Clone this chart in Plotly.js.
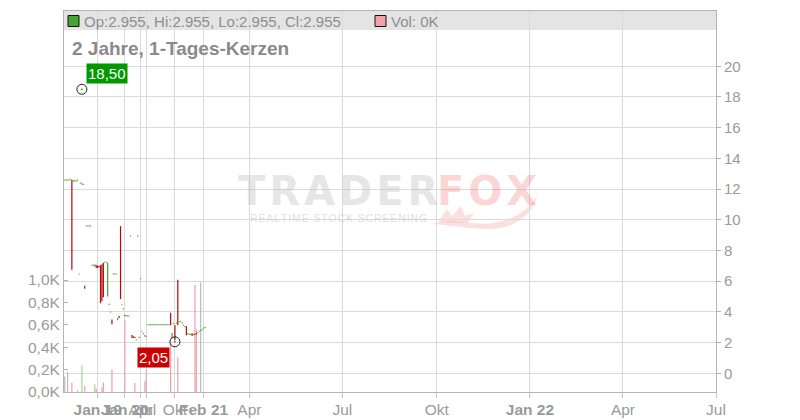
<!DOCTYPE html>
<html><head><meta charset="utf-8">
<script src="https://cdn.plot.ly/plotly-3.0.1.min.js"></script>
<style>html,body{margin:0;padding:0;background:#fff}#chart{width:800px;height:420px}</style>
</head><body><div id="chart"></div>
<script>
// ---------- data ----------
const dates = [
 '2018-10-15','2018-10-16','2018-10-18','2018-10-22','2018-10-24','2018-10-26','2018-10-29','2018-10-31','2018-11-02','2018-11-06',
 '2018-11-08','2018-11-12','2018-11-14','2018-11-16','2018-11-20','2018-11-22','2018-11-26','2018-11-28','2018-12-03','2018-12-05',
 '2018-12-11','2018-12-14','2018-12-19','2019-01-08','2019-01-15','2019-01-22','2019-01-29','2019-02-05','2019-02-12','2019-02-19',
 '2019-03-01','2019-03-12','2019-03-26','2019-05-07','2019-05-21','2019-06-11','2019-08-13','2019-08-27','2019-09-10','2019-11-12',
 '2019-11-26','2019-12-10','2020-01-14','2020-01-28','2020-02-11','2020-02-25','2020-03-03','2020-03-10','2020-03-17','2020-03-24',
 '2020-03-27','2020-03-30','2020-03-31','2020-04-14','2020-05-05','2020-05-26','2020-06-16','2020-07-07','2020-07-14','2020-07-21',
 '2020-07-28','2020-08-04','2020-08-07','2020-08-11','2020-08-14','2020-08-18','2020-08-21','2020-08-25','2020-08-28','2020-09-01',
 '2020-09-08','2020-09-15','2020-09-22','2020-09-25','2020-09-28','2020-09-29','2020-09-30','2020-10-05','2020-10-08','2020-10-13',
 '2020-10-16','2020-10-21','2020-10-26','2020-10-30','2020-11-04','2020-11-10','2020-11-13','2020-11-18','2020-11-24','2020-11-27',
 '2020-12-02','2020-12-07','2020-12-10','2020-12-15','2020-12-18','2020-12-22','2020-12-29','2021-02-03','2021-02-17'
];
const open = [
 12.55,12.55,12.55,12.55,12.6,12.6,12.5,12.5,12.5,12.55,
 6.43,12.36,12.3,12.27,5.7,9.56,9.56,9.56,9.56,7.0,
 7.0,6.95,7.05,7.0,7.0,7.04,7.1,7.2,7.2,7.2,
 5.0,4.45,3.95,3.5,6.43,6.43,6.43,3.45,3.73,9.58,
 4.43,4.17,3.76,3.72,3.7,3.7,8.9,2.5,2.4,2.35,
 2.15,8.9,2.3,6.12,2.7,2.55,2.45,2.36,3.13,3.13,
 3.13,3.13,3.13,3.13,3.13,3.13,3.13,3.13,3.13,3.13,
 3.13,3.13,3.13,3.13,3.95,2.26,3.2,3.13,3.24,6.1,
 3.3,3.35,3.25,3.1,3.0,3.06,2.55,2.5,2.5,2.6,
 2.5,2.55,2.58,2.6,2.7,2.75,2.8,2.9,2.955
];
const close = [
 12.55,12.55,12.55,12.55,12.6,6.75,12.5,12.5,12.5,12.6,
 6.43,12.36,12.36,12.27,5.5,9.56,9.56,9.56,9.56,7.0,
 7.0,7.1,6.85,6.85,6.9,4.56,4.7,4.96,7.2,7.2,
 7.2,4.45,3.95,3.2,6.43,6.43,6.43,3.6,3.6,4.84,
 4.43,4.17,3.72,3.72,3.7,3.7,8.9,2.3,2.3,2.3,
 2.15,8.9,2.3,6.12,2.7,2.55,2.4,2.36,3.13,3.13,
 3.13,3.13,3.13,3.13,3.13,3.13,3.13,3.13,3.13,3.13,
 3.13,3.13,3.13,3.13,3.13,2.62,3.2,2.15,3.24,3.13,
 3.3,3.35,3.25,3.1,3.0,2.47,2.55,2.5,2.5,2.42,
 2.5,2.5,2.55,2.6,2.7,2.75,2.8,2.9,2.955
];
const high = open.map((o, i) => Math.max(o, close[i]));
high[12] = 18.5;
const low = open.map((o, i) => Math.min(o, close[i]));
low[77] = 2.05;
const volume = [
 140,0,180,0,0,83,0,0,0,20,
 0,0,240,0,54,0,0,0,0,0,
 0,70,30,0,0,0,40,85,0,0,
 0,0,0,200,0,0,0,0,0,0,
 0,0,640,0,0,0,0,0,0,80,
 0,0,0,0,0,0,100,200,0,0,
 0,0,0,0,0,0,0,0,0,0,
 0,0,0,0,450,0,0,0,0,310,
 0,0,0,0,0,0,0,0,0,0,
 0,955,560,0,0,980,0,0,0
];
const priceTicks = [0,2,4,6,8,10,12,14,16,18,20];
const volTicks = [0,200,400,600,800,1000];
const volTickLabels = ['0,0K','0,2K','0,4K','0,6K','0,8K','1,0K'];
const xTickDates = ['2019-01-01','2020-01-01','2020-04-01','2020-07-01','2020-10-01','2021-02-01',
                    '2021-04-01','2021-07-01','2021-10-01','2022-01-01','2022-04-01','2022-07-01'];
const xTickLabels = ['<b>Jan 19</b>','<b>Jan 20</b>','Apr','Jul','Okt','<b>Feb 21</b>',
                     'Apr','Jul','Okt','<b>Jan 22</b>','Apr','Jul'];
const chartTitle = '2 Jahre, 1-Tages-Kerzen';

// ---------- scales ----------
const idx = dates.map((d, i) => i);
const last = dates.length - 1;
function parse(s){ const p = s.split('-').map(Number); return new Date(Date.UTC(p[0], p[1]-1, p[2])); }
function slotOf(ds){
  for (let i = 0; i < dates.length; i++) if (dates[i] >= ds) return i;
  // future: one slot per weekday after the last candle
  let d = parse(dates[last]), t = parse(ds), n = 0;
  while (d < t) { d = new Date(d.getTime() + 86400000); const w = d.getUTCDay(); if (w !== 0 && w !== 6) n++; }
  return last + n;
}
const xTickVals = xTickDates.map(slotOf);
const xMax = xTickVals[xTickVals.length - 1];

const PL = 64, PR = 716, PT = 11, PB = 392;
const W = PR - PL, H = PB - PT;
const px = x => (x - PL) / W;
const py = y => (PB - y) / H;
const priceRange = [-1.22, 23.6];
const volRange = [0, 3402];
const minBody = 1.1 * (priceRange[1] - priceRange[0]) / H;

const RED = '#b50a0a', GREEN = '#45a828';
const bodyBase = open.map((o, i) => Math.min(o, close[i]));
const bodyH = open.map((o, i) => Math.max(Math.abs(close[i] - o), minBody));
const bodyCol = open.map((o, i) => close[i] < o ? RED : GREEN);
const volCol = open.map((o, i) => close[i] < o ? '#f0a0aa' : (close[i] > o ? '#a5d79b' : '#b9b9b9'));

const fmt = v => v.toFixed(2).replace('.', ',');
const hiIdx = high.indexOf(Math.max(...high));
const loIdx = low.indexOf(Math.min(...low));

const traces = [
  { type:'bar', x: idx, y: volume, marker:{color: volCol, line:{width:0}}, width:0.85,
    yaxis:'y', hoverinfo:'skip' },
  { type:'bar', x: idx, base: bodyBase, y: bodyH, marker:{color: bodyCol, line:{width:0}}, width:0.85,
    yaxis:'y2', hoverinfo:'skip' },
  { type:'scatter', mode:'markers', x:[hiIdx, loIdx], y:[high[hiIdx], low[loIdx]], yaxis:'y2',
    marker:{symbol:'circle-open-dot', size:10, color:'#222', line:{width:1}}, hoverinfo:'skip' }
];

const GRID = '#dadada', LINE = '#b4b4b4', TXT = '#9a9a9a';
const FONT = 'Liberation Sans, Arial, sans-serif';

function pathPx(pts){
  return pts.map(p => p[0] + (p.length > 1 ? ' ' + p.slice(1).reduce((a, v, k) => {
    if (k % 2 === 0) a.push(px(v).toFixed(4)); else a[a.length-1] += ',' + py(v).toFixed(4);
    return a; }, []).join(' ') : '')).join(' ');
}
const tailPath = pathPx([['M',432,224],['C',458,216,476,229,502,221],['C',520,216,530,207,537,196],
  ['C',534,214,514,229,490,229],['C',468,229,452,225,432,224],['Z']]);
const tuftPath = pathPx([['M',438,222],['L',447,209],['L',452,216],['L',461,206],['L',465,216],['L',474,213],['L',468,223],['Z']]);

const lastO = open[last], lastH = high[last], lastL = low[last], lastC = close[last];
const headerTxt = `Op:${lastO.toFixed(3)}, Hi:${lastH.toFixed(3)}, Lo:${lastL.toFixed(3)}, Cl:${lastC.toFixed(3)}`;
const volTxt = `Vol: ${Math.round(volume[last]/1000)}K`;
const spaced = s => s.split('').join('\u200a');

const layout = {
  width:800, height:420, margin:{l:PL, r:800-PR, t:PT, b:420-PB, pad:0},
  paper_bgcolor:'#fff', plot_bgcolor:'#fff', showlegend:false, barmode:'overlay',
  font:{family:FONT, color:TXT, size:15},
  xaxis:{ type:'linear', range:[-0.5, xMax], tickvals:xTickVals, ticktext:xTickLabels, tickangle:0,
    showgrid:true, gridcolor:GRID, gridwidth:1, zeroline:false, showline:true, mirror:true,
    linecolor:LINE, linewidth:1, ticks:'outside', ticklen:5, tickcolor:'#c4c4c4', ticklabelstandoff:-2,
    tickfont:{family:FONT, size:15.5, color:TXT}, fixedrange:true },
  yaxis:{ range:volRange, side:'left', tickvals:volTicks, ticktext:volTickLabels, showgrid:false,
    zeroline:false, showline:true, linecolor:LINE, linewidth:1, ticks:'inside', ticklen:4, tickcolor:'#b4b4b4',
    tickfont:{family:FONT, size:15.5, color:TXT}, fixedrange:true },
  yaxis2:{ range:priceRange, overlaying:'y', side:'right', tickvals:priceTicks, ticktext:priceTicks.map(String),
    showgrid:true, gridcolor:GRID, gridwidth:1, zeroline:false, showline:true, linecolor:LINE, linewidth:1,
    ticks:'outside', ticklen:4, tickcolor:'#b4b4b4', tickfont:{family:FONT, size:15, color:TXT}, fixedrange:true },
  shapes:[
    { type:'rect', xref:'paper', yref:'paper', x0:0, x1:1, y0:py(30), y1:1, fillcolor:'#e4e4e4', line:{width:0}, layer:'below' },
    { type:'path', xref:'paper', yref:'paper', path:tailPath, fillcolor:'rgba(240,110,110,0.22)', line:{width:0}, layer:'below' },
    { type:'path', xref:'paper', yref:'paper', path:tuftPath, fillcolor:'rgba(240,110,110,0.22)', line:{width:0}, layer:'below' },
    { type:'rect', xref:'paper', yref:'paper', x0:px(68), x1:px(79), y0:py(26.5), y1:py(15.5), fillcolor:'#44a532', line:{color:'#111', width:1} },
    { type:'rect', xref:'paper', yref:'paper', x0:px(375), x1:px(386), y0:py(26.5), y1:py(15.5), fillcolor:'#eea3ab', line:{color:'#111', width:1} }
  ],
  annotations:[
    { xref:'paper', yref:'paper', x:px(82), y:py(21), xanchor:'left', yanchor:'middle', showarrow:false,
      text:headerTxt, font:{family:FONT, size:15, color:'#8e8e8e'} },
    { xref:'paper', yref:'paper', x:px(389), y:py(21), xanchor:'left', yanchor:'middle', showarrow:false,
      text:volTxt, font:{family:FONT, size:15, color:'#8e8e8e'} },
    { xref:'paper', yref:'paper', x:px(70), y:py(48), xanchor:'left', yanchor:'middle', showarrow:false,
      text:'<b>' + chartTitle + '</b>', font:{family:FONT, size:19, color:'#8a8a8a'} },
    { xref:'paper', yref:'paper', x:px(440), y:py(191), xanchor:'right', yanchor:'middle', showarrow:false,
      text:'<b>' + spaced('TRADER') + '</b>', font:{family:'DejaVu Sans, sans-serif', size:40, color:'rgba(190,190,190,0.38)'} },
    { xref:'paper', yref:'paper', x:px(435), y:py(191), xanchor:'left', yanchor:'middle', showarrow:false,
      text:'<b>' + spaced('FOX') + '</b>', font:{family:'DejaVu Sans, sans-serif', size:40, color:'rgba(240,110,110,0.28)'} },
    { xref:'paper', yref:'paper', x:px(248), y:py(218), xanchor:'left', yanchor:'middle', showarrow:false,
      text:spaced('REALTIME STOCK SCREENING'), font:{family:FONT, size:10.5, color:'rgba(190,190,190,0.5)'} },
    { xref:'x', yref:'y2', x:hiIdx, y:high[hiIdx], xanchor:'left', yanchor:'bottom', xshift:4, yshift:5,
      showarrow:false, text:fmt(high[hiIdx]), bgcolor:'#009a00', borderpad:1,
      font:{family:FONT, size:15, color:'#fff'} },
    { xref:'x', yref:'y2', x:loIdx, y:low[loIdx], xanchor:'right', yanchor:'top', xshift:-5, yshift:-5,
      showarrow:false, text:fmt(low[loIdx]), bgcolor:'#cc0000', borderpad:1,
      font:{family:FONT, size:15, color:'#fff'} }
  ]
};

Plotly.newPlot('chart', traces, layout, {staticPlot:true, displayModeBar:false});
</script></body></html>
